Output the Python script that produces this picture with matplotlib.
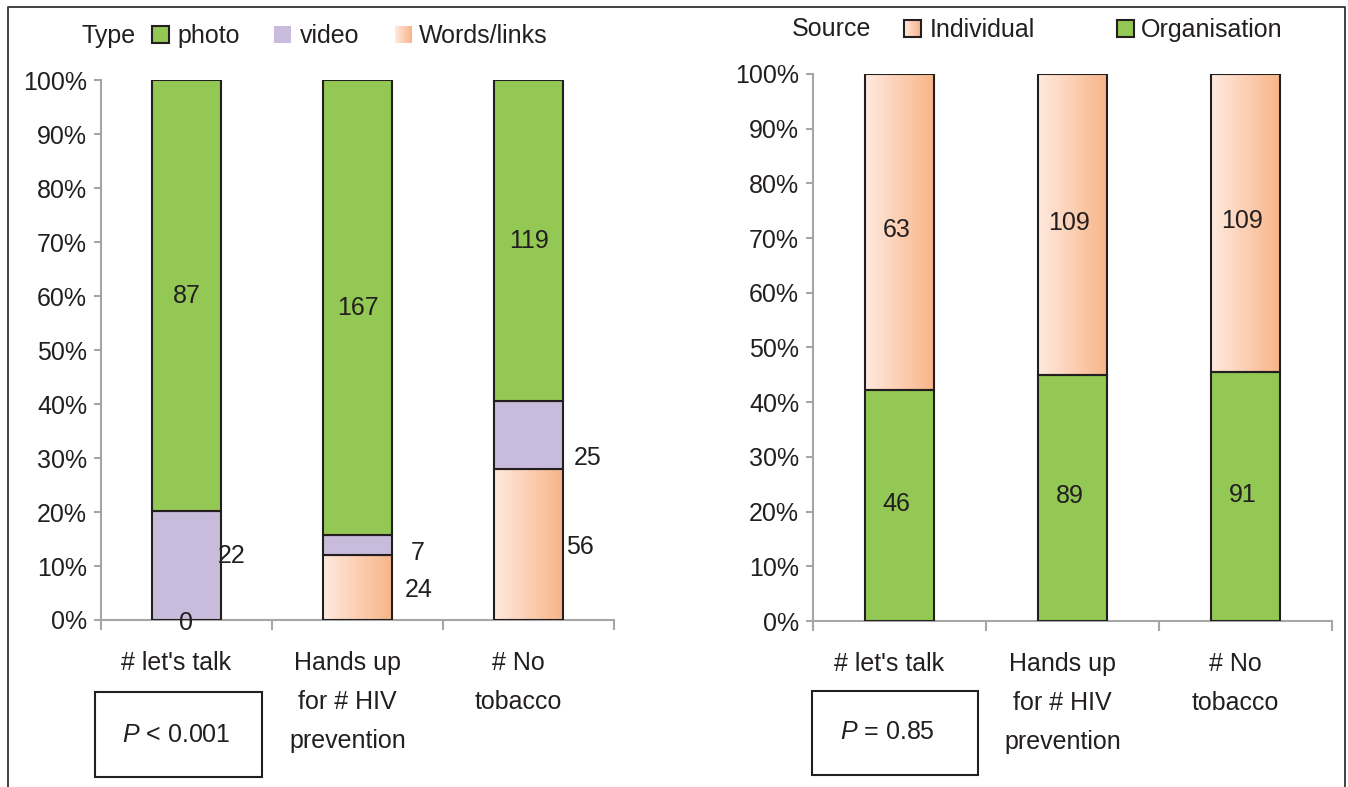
import numpy as np
import matplotlib.pyplot as plt
import matplotlib.transforms as mtransforms
from matplotlib.colors import LinearSegmentedColormap
from matplotlib.patches import Rectangle

plt.rcParams['font.family'] = ['Liberation Sans', 'DejaVu Sans']
plt.rcParams['mathtext.fontset'] = 'custom'
plt.rcParams['mathtext.it'] = 'Liberation Sans:italic'
plt.rcParams['mathtext.rm'] = 'Liberation Sans'

categories = ["# let's talk", "Hands up\nfor # HIV\nprevention", "# No\ntobacco"]

# post counts by type
photo = [87, 167, 119]
video = [22, 7, 25]
words = [0, 24, 56]

# post counts by source
organisation = [46, 89, 91]
individual = [63, 109, 109]

type_legend = ["photo", "video", "Words/links"]
source_legend = ["Individual", "Organisation"]
p_texts = ["$P$ < 0.001", "$P$ = 0.85"]

GREEN = '#92c853'
LILAC = '#c8bbdb'
EDGE = '#231f20'
AXIS = '#a6a6a6'
TEXT = '#231f20'
PEACH = LinearSegmentedColormap.from_list('peach', ['#ffeadf', '#f8b487'])
FS = 18
BAR_W = 0.40


def gradient_rect(ax, x0, y0, w, h, lw=1.5, edge=True):
    rect = Rectangle((x0, y0), w, h, facecolor='none',
                     edgecolor=EDGE if edge else 'none', lw=lw, zorder=3)
    ax.add_patch(rect)
    grad = np.linspace(0, 1, 256).reshape(1, -1)
    y_lo, y_hi = sorted([y0, y0 + h])
    im = ax.imshow(grad, cmap=PEACH, aspect='auto', interpolation='bicubic',
                   extent=(x0, x0 + w, y_lo, y_hi), zorder=2)
    im.set_clip_path(rect)
    return rect


def style_axes(ax, fig):
    ax.set_xlim(-0.5, 2.5)
    ax.set_ylim(0, 100)
    for side in ['top', 'right']:
        ax.spines[side].set_visible(False)
    for side in ['left', 'bottom']:
        ax.spines[side].set_color(AXIS)
        ax.spines[side].set_linewidth(1.5)
    ax.set_yticks(np.arange(0, 101, 10))
    ax.set_yticklabels([f'{v}%' for v in range(0, 101, 10)])
    ax.tick_params(axis='y', length=5, width=1.5, color=AXIS, pad=5,
                   labelsize=FS, labelcolor=TEXT)
    ax.set_xticks(range(len(categories)))
    ax.set_xticklabels(categories, linespacing=1.8)
    ax.tick_params(axis='x', which='major', length=0, pad=22,
                   labelsize=FS, labelcolor=TEXT)
    ax.set_xticks(np.arange(-0.5, 3, 1), minor=True)
    ax.tick_params(axis='x', which='minor', length=7.5, width=1.5, color=AXIS)
    # category labels sit a little left of the bar centres
    shift = mtransforms.ScaledTranslation(-0.10, 0, fig.dpi_scale_trans)
    for lab in ax.get_xticklabels():
        lab.set_transform(lab.get_transform() + shift)


fig = plt.figure(figsize=(13.48, 7.87), dpi=100)

# left panel: share of posts by type
ax1 = fig.add_axes([0.0749, 0.2122, 0.3806, 0.6861])
x = np.arange(len(categories))
tot1 = np.array(photo) + np.array(video) + np.array(words)
p_words = np.array(words) / tot1 * 100
p_video = np.array(video) / tot1 * 100
p_photo = np.array(photo) / tot1 * 100

for i in x:
    if p_words[i] > 0:
        gradient_rect(ax1, i - BAR_W / 2, 0, BAR_W, p_words[i])
ax1.bar(x, p_video, BAR_W, bottom=p_words, color=LILAC, edgecolor=EDGE, lw=1.5, zorder=3)
ax1.bar(x, p_photo, BAR_W, bottom=p_words + p_video, color=GREEN, edgecolor=EDGE, lw=1.5, zorder=3)

video_offsets = [(45, 10), (60, -8), (59, -23)]
words_offsets = [(0, -3), (61, -3), (51, -3)]
for i in x:
    ax1.text(i, p_words[i] + p_video[i] + p_photo[i] / 2, str(photo[i]),
             ha='center', va='center', fontsize=FS, color=TEXT, zorder=5)
    ax1.annotate(str(video[i]), (i, p_words[i] + p_video[i] / 2),
                 xytext=video_offsets[i], textcoords='offset pixels',
                 ha='center', va='center', fontsize=FS, color=TEXT, zorder=5)
    ax1.annotate(str(words[i]), (i, p_words[i] / 2),
                 xytext=words_offsets[i], textcoords='offset pixels',
                 ha='center', va='center', fontsize=FS, color=TEXT, zorder=5,
                 annotation_clip=False)
style_axes(ax1, fig)

# right panel: share of posts by source
ax2 = fig.add_axes([0.6031, 0.2109, 0.3850, 0.6951])
tot2 = np.array(organisation) + np.array(individual)
p_org = np.array(organisation) / tot2 * 100
p_ind = np.array(individual) / tot2 * 100
ax2.bar(x, p_org, BAR_W, color=GREEN, edgecolor=EDGE, lw=1.5, zorder=3)
for i in x:
    gradient_rect(ax2, i - BAR_W / 2, p_org[i], BAR_W, p_ind[i])
    ax2.annotate(str(organisation[i]), (i, p_org[i] / 2), xytext=(-3, 2),
                 textcoords='offset pixels', ha='center', va='center',
                 fontsize=FS, color=TEXT, zorder=5)
    ax2.annotate(str(individual[i]), (i, p_org[i] + p_ind[i] / 2), xytext=(-3, 2),
                 textcoords='offset pixels', ha='center', va='center',
                 fontsize=FS, color=TEXT, zorder=5)
style_axes(ax2, fig)

# overlay in pixel units for frame, legends and p-value boxes
ov = fig.add_axes([0, 0, 1, 1], zorder=10)
ov.set_xlim(0, 1348)
ov.set_ylim(787, 0)
ov.axis('off')

ov.plot([8, 8, 1345, 1345], [787, 7, 7, 787], color='#333333', lw=1.3)

# legend: type
ov.text(81, 36, 'Type', fontsize=FS, color=TEXT, va='center')
ov.add_patch(Rectangle((152, 26), 17, 17, facecolor=GREEN, edgecolor=EDGE, lw=1.5))
ov.text(177, 36, type_legend[0], fontsize=FS, color=TEXT, va='center')
ov.add_patch(Rectangle((274, 26), 17, 17, facecolor=LILAC, edgecolor='none'))
ov.text(300, 36, type_legend[1], fontsize=FS, color=TEXT, va='center')
gradient_rect(ov, 395, 26, 17, 17, edge=False)
ov.text(419, 36, type_legend[2], fontsize=FS, color=TEXT, va='center')

# legend: source
ov.text(792, 29, 'Source', fontsize=FS, color=TEXT, va='center')
gradient_rect(ov, 904, 20, 17, 17)
ov.text(930, 30, source_legend[0], fontsize=FS, color=TEXT, va='center')
ov.add_patch(Rectangle((1117, 20), 17, 17, facecolor=GREEN, edgecolor=EDGE, lw=1.5))
ov.text(1141, 30, source_legend[1], fontsize=FS, color=TEXT, va='center')

# p-value boxes
ov.add_patch(Rectangle((95, 692), 167, 85, facecolor='white', edgecolor=EDGE, lw=1.5))
ov.text(176, 735, p_texts[0], fontsize=FS, color=TEXT, ha='center', va='center')
ov.add_patch(Rectangle((812, 691), 166, 84, facecolor='white', edgecolor=EDGE, lw=1.5))
ov.text(887, 732, p_texts[1], fontsize=FS, color=TEXT, ha='center', va='center')

fig.savefig('out.png', dpi=100)
